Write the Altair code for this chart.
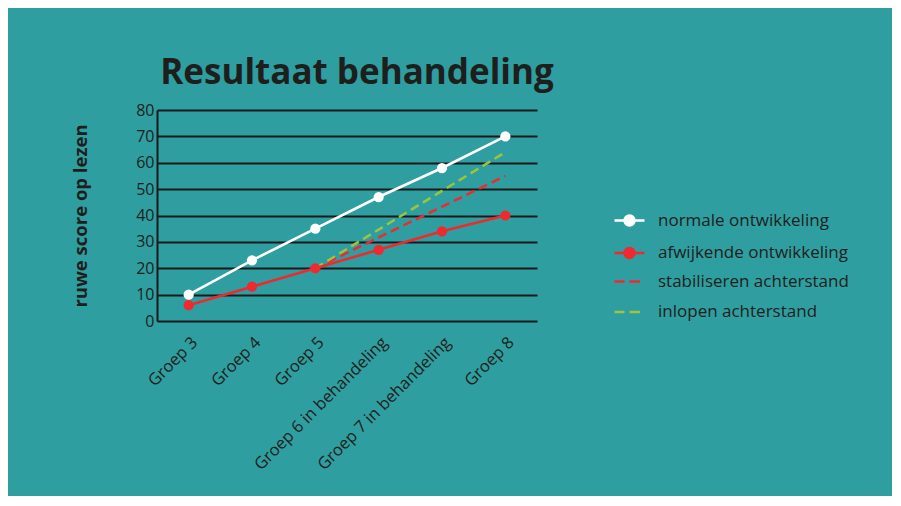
import altair as alt
import pandas as pd

categories = ["Groep 3", "Groep 4", "Groep 5", "Groep 6 in behandeling", "Groep 7 in behandeling", "Groep 8"]
solid_names = ["normale ontwikkeling", "afwijkende ontwikkeling"]
dashed_names = ["stabiliseren achterstand", "inlopen achterstand"]
normale = [10, 23, 35, 47, 58, 70]
afwijkende = [6, 13, 20, 27, 34, 40]
dashed_categories = ["Groep 5", "Groep 8"]
stabiliseren = [20, 55]
inlopen = [20, 64]

solid_colors = ["#ffffff", "#ee2a30"]
dashed_colors = ["#ee2a30", "#9ec43c"]
TEXT = "#1e1e1c"
BG = "#2e9ea0"
FONT = "Open Sans"

solid_rows = []
for c, v in zip(categories, normale):
    solid_rows.append({"cat": c, "val": v, "series": solid_names[0]})
for c, v in zip(categories, afwijkende):
    solid_rows.append({"cat": c, "val": v, "series": solid_names[1]})
dashed_rows = []
for c, v in zip(dashed_categories, stabiliseren):
    dashed_rows.append({"cat": c, "val": v, "dseries": dashed_names[0]})
for c, v in zip(dashed_categories, inlopen):
    dashed_rows.append({"cat": c, "val": v, "dseries": dashed_names[1]})
solid_df = pd.DataFrame(solid_rows)
dashed_df = pd.DataFrame(dashed_rows)

circle_path = "M-1,0L1,0M-0.33,0A0.33,0.33,0,1,0,0.33,0A0.33,0.33,0,1,0,-0.33,0Z"
dash_path = "M-1,0L-0.33,0M0,0L0.7,0"

x_enc = alt.X("cat:N", sort=categories, title=None,
              scale=alt.Scale(type="point", padding=0.5, domain=categories),
              axis=alt.Axis(labelAngle=-45, labelFontSize=16.5, labelFont=FONT, labelColor=TEXT,
                            domain=False, ticks=False, grid=False, labelPadding=13,
                            labelLimit=400))
y_enc = alt.Y("val:Q", title="ruwe score op lezen",
              scale=alt.Scale(domain=[0, 80], nice=False),
              axis=alt.Axis(values=list(range(0, 81, 10)), labelFontSize=16, labelFont=FONT,
                            labelColor=TEXT, ticks=False, labelPadding=3,
                            domain=True, domainColor="#1a1a1a", domainWidth=2,
                            grid=True, gridColor="#1a1a1a", gridWidth=2,
                            titleFont=FONT, titleFontSize=18.5, titleFontWeight="bold", titleColor=TEXT,
                            titleX=-77, titleY=105.5, titleAngle=270, titleAlign="center",
                            titleBaseline="middle"))

color_enc = alt.Color("series:N", scale=alt.Scale(domain=solid_names, range=solid_colors),
                      legend=alt.Legend(
                          orient="none", legendX=456, legendY=94, title=None,
                          symbolType=circle_path, symbolSize=900, symbolStrokeWidth=2.5,
                          symbolOpacity=1,
                          labelFont=FONT, labelFontSize=17, labelColor=TEXT, labelOffset=12,
                          rowPadding=5.5, labelLimit=400))
stroke_enc = alt.Stroke("dseries:N", scale=alt.Scale(domain=dashed_names, range=dashed_colors),
                        legend=alt.Legend(
                            orient="none", legendX=456, legendY=155, title=None,
                            symbolType=dash_path, symbolSize=900, symbolStrokeWidth=2.5,
                            symbolOpacity=1,
                            labelFont=FONT, labelFontSize=17, labelColor=TEXT, labelOffset=12,
                            rowPadding=5.5, labelLimit=400))

dashed = alt.Chart(dashed_df).mark_line(strokeWidth=2.5, strokeDash=[9, 5]).encode(
    x=x_enc, y=y_enc, stroke=stroke_enc)
solid = alt.Chart(solid_df).mark_line(strokeWidth=2.6).encode(
    x=x_enc, y=y_enc, color=color_enc)
points = alt.Chart(solid_df).mark_point(filled=True, size=105, opacity=1).encode(
    x=x_enc, y=y_enc, color=color_enc)

chart = alt.layer(dashed, solid, points).properties(
    width=380, height=211,
    title=alt.TitleParams("Resultaat behandeling", font=FONT, fontSize=35, fontWeight="bold",
                          color=TEXT, anchor="middle", dx=10, dy=33, offset=16, baseline="alphabetic"),
    autosize=alt.AutoSizeParams(type="none"),
    padding={"left": 149, "top": 102, "right": 355, "bottom": 175},
).configure(background=BG).configure_view(stroke=None)

chart.save("out.html", embed_options={"renderer": "svg", "actions": False})
